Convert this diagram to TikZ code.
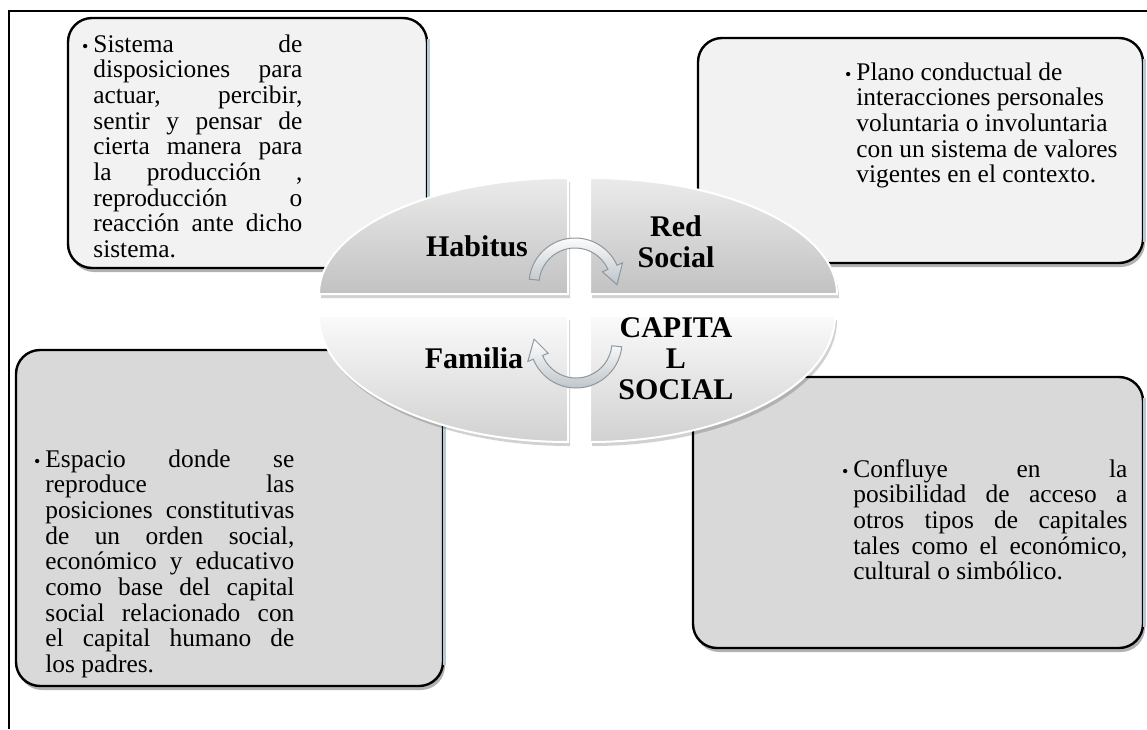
\documentclass[tikz,border=0pt]{standalone}
\usepackage{fontspec}
\setmainfont{Liberation Serif}
\usetikzlibrary{calc,shadows}
\definecolor{lightbox}{HTML}{F2F2F2}
\definecolor{darkbox}{HTML}{D9D9D9}
\definecolor{edgeblue}{HTML}{B7C9D3}
\definecolor{arrowedge}{HTML}{8E989E}
\definecolor{arrowdark}{HTML}{BCC3C8}
\tikzset{
  infobox/.style={draw=black, line width=1.2pt, rounded corners=12pt, inner sep=0pt,
    drop shadow={shadow xshift=1pt, shadow yshift=-2pt, fill=black, opacity=0.3}},
  rightedge/.style={draw=edgeblue, line width=1.3pt},
  bodytext/.style={inner sep=0pt, anchor=base west, font=\fontsize{12.7}{12.85}\selectfont},
  quadtop/.style={draw=white, line width=1pt, top color=white!92!black, bottom color=white!76!black},
  quadbot/.style={draw=white, line width=1pt, top color=white!98!black, bottom color=white!82!black},
  quadshadow/.style={fill=black, opacity=0.18},
  cyclearrow/.style={draw=arrowedge, line width=0.5pt, top color=white, bottom color=arrowdark},
  qlabel/.style={inner sep=0pt, font=\fontsize{15}{15.5}\selectfont\bfseries, align=center},
}
\newcommand{\bul}{\llap{{\fontsize{9}{9}\selectfont\textbullet}\hspace{2.5pt}}}
\begin{document}
\begin{tikzpicture}[x=0.5pt,y=-0.5pt]
\useasboundingbox (0,0) rectangle (1147,729);
% frame
\draw[line width=1pt] (9,729) -- (9,11) -- (1147,11);
% boxes
\node[infobox, fill=lightbox, minimum width=179.5pt, minimum height=125pt] (tlbox) at (247.5,143) {};
\node[infobox, fill=lightbox, minimum width=222.5pt, minimum height=112.5pt] (trbox) at (920.5,150.5) {};
\node[infobox, fill=darkbox, minimum width=213.5pt, minimum height=168pt] (blbox) at (229.5,518) {};
\node[infobox, fill=darkbox, minimum width=225pt, minimum height=135.5pt] (brbox) at (918,512.5) {};
\foreach \b in {tlbox,trbox,blbox,brbox}{
  \draw[rightedge] ([yshift=-11pt]\b.north east) -- ([yshift=11pt]\b.south east);
}
% box texts
\node[bodytext, text width=104.5pt, align=justify] (tltext) at (93,52)
 {\bul Sistema de\linebreak disposiciones para\linebreak actuar, percibir,\linebreak sentir y pensar de\linebreak cierta manera para\linebreak la producción ,\linebreak reproducción o\linebreak reacción ante dicho\linebreak sistema.};
\node[bodytext, text width=135pt, align=justify] (trtext) at (856,80)
 {\bul Plano conductual de\newline interacciones personales\newline voluntaria o involuntaria\newline con un sistema de valores\newline vigentes en el contexto.};
\node[bodytext, text width=124.5pt, align=justify] (bltext) at (45,467)
 {\bul Espacio donde se\linebreak reproduce las\linebreak posiciones constitutivas\linebreak de un orden social,\linebreak económico y educativo\linebreak como base del capital\linebreak social relacionado con\linebreak el capital humano de\linebreak los padres.};
\node[bodytext, text width=137pt, align=justify] (brtext) at (853,477)
 {\bul Confluye en la\linebreak posibilidad de acceso a\linebreak otros tipos de capitales\linebreak tales como el económico,\linebreak cultural o simbólico.};
% ellipse quadrants: shadows
\begin{scope}[shift={(2,4)}]
\fill[quadshadow] (568,294) -- (319,294) arc (180:270:249 and 116) -- cycle;
\fill[quadshadow] (590,294) -- (837,294) arc (0:-90:247 and 116) -- cycle;
\fill[quadshadow] (568,316) -- (319,316) arc (180:90:249 and 126) -- cycle;
\fill[quadshadow] (590,316) -- (835,316) arc (0:90:245 and 126) -- cycle;
\end{scope}
% ellipse quadrants
\shadedraw[quadtop] (568,294) -- (319,294) arc (180:270:249 and 116) -- cycle;
\shadedraw[quadtop] (590,294) -- (837,294) arc (0:-90:247 and 116) -- cycle;
\shadedraw[quadbot] (568,316) -- (319,316) arc (180:90:249 and 126) -- cycle;
\shadedraw[quadbot] (590,316) -- (835,316) arc (0:90:245 and 126) -- cycle;
% cycle arrows
\coordinate (ctop) at (575,284);
\coordinate (cbot) at (576,342);
\shadedraw[cyclearrow] ($(ctop)+(186:46)$) arc (186:336:46) -- ($(ctop)+(336:52)$) -- ($(ctop)+(1:42)$) -- ($(ctop)+(336:30)$) -- ($(ctop)+(336:36)$) arc (336:186:36) -- cycle;
\shadedraw[cyclearrow] ($(cbot)+(6:46)$) arc (6:158:46) -- ($(cbot)+(158:52)$) -- ($(cbot)+(184:42)$) -- ($(cbot)+(158:30)$) -- ($(cbot)+(158:36)$) arc (158:6:36) -- cycle;
% labels
\node[qlabel, anchor=base] (habitus) at (477,256) {Habitus};
\node[qlabel, anchor=north] (redsocial) at (676,215) {Red\\Social};
\node[qlabel, anchor=base] (familia) at (474,368) {Familia};
\node[qlabel, anchor=north] (capital) at (676,317) {CAPITA\\L\\SOCIAL};
\end{tikzpicture}
\end{document}
